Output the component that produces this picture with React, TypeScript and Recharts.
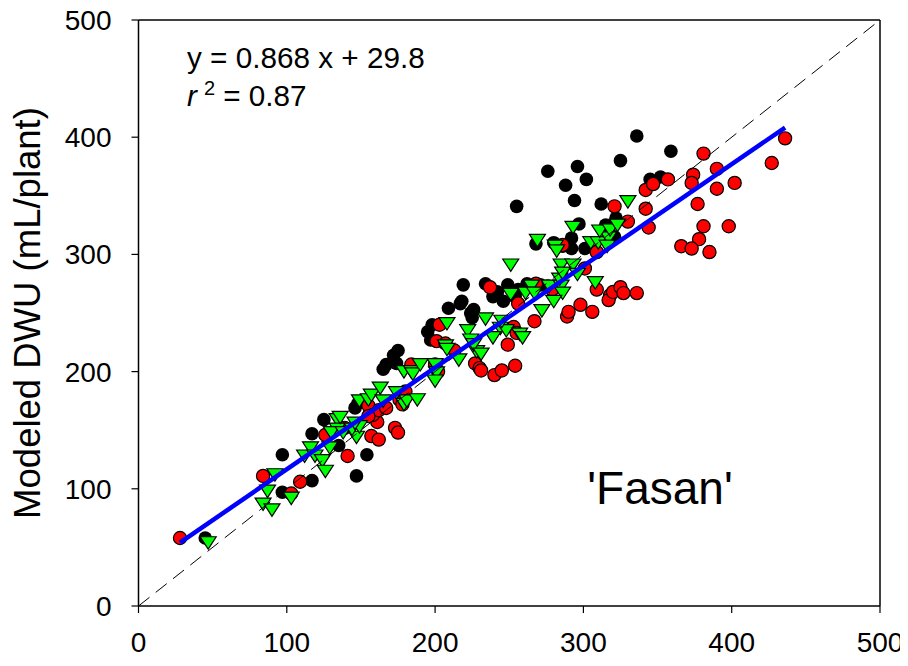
import React from 'react';
import { ScatterChart, Scatter, XAxis, YAxis, ReferenceLine } from 'recharts';

// Measured vs modeled DWU (mL/plant)
const blackPoints: number[][] = [
  [45, 58], [97, 97], [97, 129], [117, 107], [117, 147], [125, 159], [147, 111], [154, 129],
  [135, 137], [148, 173], [146, 169], [165, 202], [167, 206], [172, 214], [175, 218], [174, 207],
  [198, 240], [195, 234], [197, 227], [209, 254], [217, 258], [224, 250], [225, 246], [219, 274],
  [226, 253], [234, 275], [249, 274], [262, 275], [271, 274], [276, 273], [242, 268], [239, 264],
  [246, 260], [254, 264], [256, 270], [218, 260], [255, 341], [268, 309], [276, 371], [288, 359],
  [296, 375], [302, 364], [294, 346], [312, 343], [297, 326], [315, 325], [322, 331], [280, 310],
  [286, 307], [292, 305], [301, 305], [309, 302], [292, 314], [321, 315], [316, 312], [325, 380],
  [336, 401], [359, 388], [345, 364], [352, 366],
];

const redPoints: number[][] = [
  [28, 58], [84, 111], [103, 96], [109, 106], [126, 146], [139, 152], [141, 128], [155, 171],
  [157, 145], [162, 142], [161, 157], [158, 163], [162, 167], [167, 169], [155, 162], [173, 152],
  [175, 148], [176, 176], [178, 172], [180, 183], [184, 206], [200, 206], [202, 200], [203, 240],
  [201, 226], [207, 224], [213, 218], [227, 207], [230, 203], [231, 201], [240, 197], [245, 201],
  [254, 205], [249, 223], [253, 238], [255, 233], [237, 272], [256, 258], [267, 243], [268, 275],
  [279, 270], [286, 308], [289, 247], [290, 251], [298, 257], [306, 251], [301, 288], [309, 302],
  [309, 270], [318, 265], [317, 261], [320, 268], [325, 272], [327, 267], [336, 267], [321, 341],
  [330, 328], [342, 339], [344, 323], [342, 355], [347, 360], [357, 364], [374, 368], [373, 361],
  [381, 386], [390, 373], [390, 356], [402, 361], [377, 343], [381, 324], [398, 324], [378, 313],
  [366, 307], [373, 305], [385, 302], [427, 378], [436, 399],
];

const greenPoints: number[][] = [
  [47, 55], [84, 88], [90, 83], [87, 99], [92, 113], [103, 93], [112, 129], [116, 136],
  [119, 129], [124, 125], [126, 116], [129, 136], [134, 160], [134, 152], [130, 149], [138, 149],
  [147, 145], [144, 152], [149, 154], [146, 157], [136, 162], [149, 176], [155, 177], [157, 181],
  [163, 187], [165, 176], [174, 183], [179, 173], [181, 176], [188, 177], [179, 201], [184, 201],
  [185, 199], [190, 207], [200, 207], [201, 200], [200, 193], [208, 242], [207, 223], [208, 220],
  [222, 236], [224, 228], [228, 218], [216, 211], [226, 224], [234, 246], [244, 238], [239, 230],
  [248, 236], [257, 233], [259, 230], [251, 267], [251, 292], [265, 274], [261, 268], [267, 268],
  [277, 274], [285, 274], [286, 268], [280, 261], [284, 280], [272, 253], [269, 313], [281, 308],
  [282, 304], [285, 292], [293, 292], [286, 285], [296, 284], [308, 277], [293, 324], [305, 311],
  [310, 311], [317, 315], [316, 308], [311, 321], [318, 322], [323, 326], [330, 346], [245, 244],
  [231, 216],
];

// regression y = 0.868 x + 29.8, drawn over the measured range
const slope = 0.868;
const intercept = 29.8;
const fitRange = [28, 436];

const axisTicks = [0, 100, 200, 300, 400, 500];
const axisDomain = [0, 500];

const toObjs = (pts: number[][]) => pts.map(([x, y]) => ({ x, y }));
const blackData = toObjs(blackPoints);
const redData = toObjs(redPoints);
const greenData = toObjs(greenPoints);
const fitData = fitRange.map((x) => ({ x, y: slope * x + intercept }));
const oneToOne = axisDomain.map((v) => ({ x: v, y: v }));

const FONT = '"Liberation Sans", Arial, sans-serif';

const BlackDot = (p: any) => <circle cx={p.cx} cy={p.cy} r={6.8} fill="#000" />;
const RedDot = (p: any) => (
  <circle cx={p.cx} cy={p.cy} r={6.6} fill="#FF0000" stroke="#000" strokeWidth={1.2} />
);
const GreenTri = (p: any) => {
  const { cx, cy } = p;
  const s = 8;
  const pts = `${cx - s},${cy - s * 0.6} ${cx + s},${cy - s * 0.6} ${cx},${cy + s * 0.95}`;
  return <polygon points={pts} fill="#00FF00" stroke="#000" strokeWidth={1.2} />;
};
const NoDot = () => null;

const tickStyle = { fontFamily: FONT, fontSize: 28, fill: '#000' };

export default function App() {
  return (
    <div style={{ width: 908, height: 666, margin: '-8px 0 0 -8px', background: '#fff' }}>
      <ScatterChart width={908} height={666} margin={{ top: 20, right: 28, bottom: 15, left: 0 }}>
        <XAxis
          type="number"
          dataKey="x"
          domain={axisDomain}
          ticks={axisTicks}
          interval={0}
          height={45}
          tickSize={7}
          tickMargin={19}
          tick={tickStyle}
          axisLine={{ stroke: '#000', strokeWidth: 1.5 }}
          tickLine={{ stroke: '#000', strokeWidth: 1.2 }}
          allowDataOverflow
        />
        <YAxis
          type="number"
          dataKey="y"
          domain={axisDomain}
          ticks={axisTicks}
          interval={0}
          width={138.5}
          tickSize={7}
          tickMargin={20}
          tick={tickStyle}
          axisLine={{ stroke: '#000', strokeWidth: 1.5 }}
          tickLine={{ stroke: '#000', strokeWidth: 1.2 }}
          allowDataOverflow
        />
        <ReferenceLine y={500} stroke="#000" strokeWidth={1.5} />
        <ReferenceLine x={500} stroke="#000" strokeWidth={1.5} />
        <Scatter data={blackData} shape={BlackDot} isAnimationActive={false} />
        <Scatter data={redData} shape={RedDot} isAnimationActive={false} />
        <Scatter data={greenData} shape={GreenTri} isAnimationActive={false} />
        <Scatter
          data={oneToOne}
          shape={NoDot}
          line={{ stroke: '#000', strokeWidth: 1, strokeDasharray: '14 8' }}
          isAnimationActive={false}
        />
        <Scatter
          data={fitData}
          shape={NoDot}
          line={{ stroke: '#0000FF', strokeWidth: 4.5 }}
          isAnimationActive={false}
        />
        <text
          x={30}
          y={313}
          transform="rotate(-90 30 313)"
          textAnchor="middle"
          dominantBaseline="middle"
          style={{ fontFamily: FONT, fontSize: 36.5, fill: '#000' }}
        >
          Modeled DWU (mL/plant)
        </text>
        <text x={187} y={68} style={{ fontFamily: FONT, fontSize: 29.7, fill: '#000' }}>
          y = 0.868 x + 29.8
        </text>
        <text x={187} y={106} style={{ fontFamily: FONT, fontSize: 29.7, fill: '#000' }}>
          <tspan fontStyle="italic">r</tspan>
          <tspan dx={7} dy={-11} fontSize={20}>2</tspan>
          <tspan dy={11}> = 0.87</tspan>
        </text>
        <text
          x={660}
          y={504}
          textAnchor="middle"
          style={{ fontFamily: FONT, fontSize: 46, fill: '#000' }}
        >
          'Fasan'
        </text>
      </ScatterChart>
    </div>
  );
}
